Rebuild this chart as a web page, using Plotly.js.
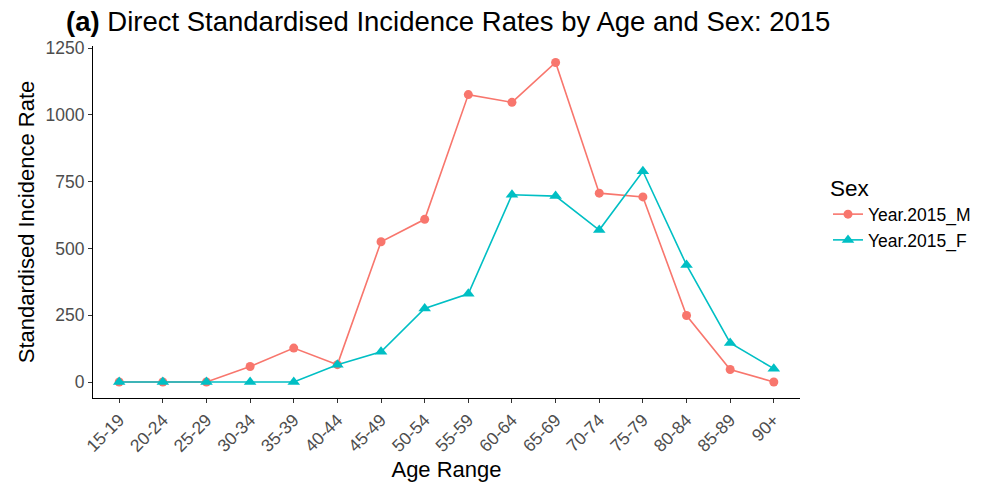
<!DOCTYPE html>
<html>
<head>
<meta charset="utf-8">
<script src="https://cdn.plot.ly/plotly-3.0.1.min.js"></script>
<style>html,body{margin:0;padding:0;background:#fff;}#chart{width:988px;height:486px;}</style>
</head>
<body>
<div id="chart"></div>
<script>
const ageRanges = ["15-19","20-24","25-29","30-34","35-39","40-44","45-49","50-54","55-59","60-64","65-69","70-74","75-79","80-84","85-89","90+"];
const maleRates = [0,0,0,58,127,65,525,609,1076,1047,1196,707,693,249,47,0];
const femaleRates = [0,0,0,0,0,65,113,275,330,701,696,569,789,438,146,50];
const seriesNames = ["Year.2015_M","Year.2015_F"];

const font = "Liberation Sans, Arial, sans-serif";
const traces = [
  {x: ageRanges, y: maleRates, name: seriesNames[0], type: "scatter", mode: "lines+markers",
   line: {color: "#F8766D", width: 1.6}, marker: {symbol: "circle", size: 9, color: "#F8766D"}},
  {x: ageRanges, y: femaleRates, name: seriesNames[1], type: "scatter", mode: "lines+markers",
   line: {color: "#00BFC4", width: 1.6}, marker: {symbol: "triangle-up", size: 11, color: "#00BFC4"}}
];
const layout = {
  width: 988, height: 486,
  margin: {l: 93, r: 188, t: 46, b: 88, pad: 0, autoexpand: false},
  paper_bgcolor: "#fff", plot_bgcolor: "#fff",
  font: {family: font, color: "#000"},
  title: {text: "<b>(a)</b> Direct Standardised Incidence Rates by Age and Sex: 2015",
          font: {family: font, size: 27.5, color: "#000"},
          x: 66/988, xanchor: "left", xref: "container", y: 1 - 21/486, yanchor: "middle", yref: "container"},
  xaxis: {
    type: "category", categoryorder: "array", categoryarray: ageRanges,
    range: [-0.6, 15.6], autorange: false, automargin: false,
    showgrid: false, zeroline: false,
    showline: true, linecolor: "#000", linewidth: 1,
    ticks: "outside", ticklen: 4, tickcolor: "#333", tickwidth: 1,
    tickangle: -45, tickfont: {family: font, size: 17.5, color: "#4d4d4d"},
    title: {text: "Age Range", font: {family: font, size: 22, color: "#000"}, standoff: 6}
  },
  yaxis: {
    range: [-59.9, 1257.9], autorange: false, automargin: false,
    tickvals: [0,250,500,750,1000,1250],
    showgrid: false, zeroline: false,
    showline: true, linecolor: "#000", linewidth: 1,
    ticks: "outside", ticklen: 4, tickcolor: "#333", tickwidth: 1,
    tickfont: {family: font, size: 17.5, color: "#4d4d4d"},
    title: {text: "Standardised Incidence Rate", font: {family: font, size: 22, color: "#000"}, standoff: 4}
  },
  showlegend: true,
  legend: {
    xref: "container", x: 828/988, xanchor: "left", yref: "container", y: 1 - 167/486, yanchor: "top",
    title: {text: "Sex", font: {family: font, size: 22.5, color: "#000"}},
    font: {family: font, size: 17.5, color: "#000"},
    bgcolor: "rgba(0,0,0,0)", tracegroupgap: 0
  }
};
Plotly.newPlot("chart", traces, layout, {displayModeBar: false, staticPlot: true});
</script>
</body>
</html>
